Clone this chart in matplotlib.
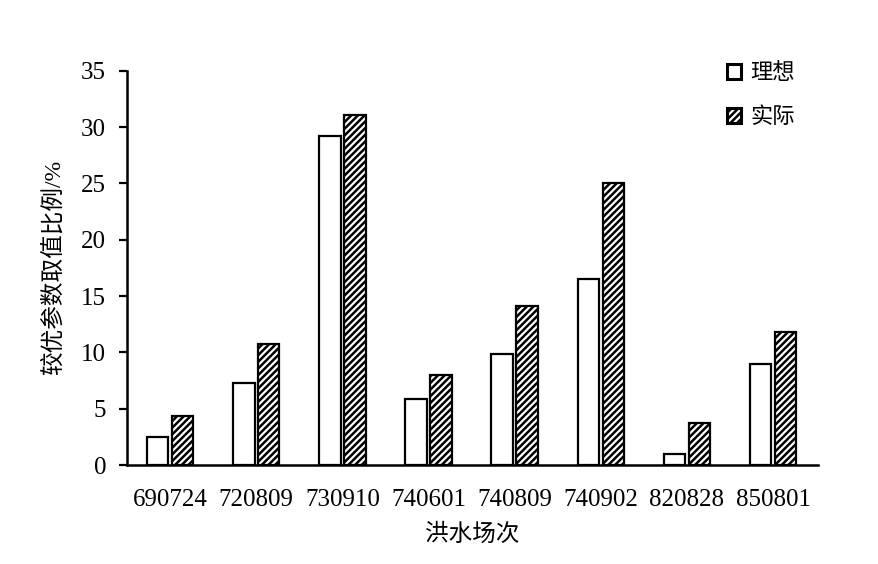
import numpy as np
import matplotlib.pyplot as plt

plt.rcParams['font.family'] = ['Liberation Serif', 'Noto Sans CJK SC']
plt.rcParams['hatch.linewidth'] = 1.8

# 数据
events = ["690724", "720809", "730910", "740601", "740809", "740902", "820828", "850801"]
ideal = [2.5, 7.3, 29.2, 5.9, 9.9, 16.5, 1.0, 9.0]
actual = [4.35, 10.7, 31.1, 8.0, 14.1, 25.0, 3.7, 11.8]

x = np.arange(len(events))
w = 0.25

fig = plt.figure(figsize=(8.79, 5.64), dpi=100)
ax = fig.add_axes([0.1445, 0.1755, 0.786, 0.699])

ax.bar(x - w / 2 - 0.02, ideal, w, color='white', edgecolor='black', linewidth=1.6, label='理想')
ax.bar(x + w / 2 + 0.02, actual, w, color='white', edgecolor='black', linewidth=1.6,
       hatch='/////', label='实际')

ax.set_xlim(-0.5, 7.52)
ax.set_ylim(0, 35)
ax.set_yticks(range(0, 36, 5))
ax.set_xticks(x)
ax.set_xticklabels(events)
ax.tick_params(axis='x', length=0, labelsize=18, pad=17)
ax.tick_params(axis='y', direction='out', length=6, width=1.6, labelsize=18, pad=9)

for s in ['top', 'right']:
    ax.spines[s].set_visible(False)
for s in ['left', 'bottom']:
    ax.spines[s].set_linewidth(1.8)

ax.set_xlabel("洪水场次", fontsize=17, labelpad=9)
ax.set_ylabel("较优参数取值比例/%", fontsize=17, labelpad=12)

leg = ax.legend(loc='upper right', bbox_to_anchor=(0.995, 1.07), frameon=False, fontsize=16,
                handlelength=0.65, handleheight=0.65, handletextpad=0.4, labelspacing=1.05)
for p in leg.get_patches():
    p.set_linewidth(2.2)

fig.savefig("out.png", dpi=100)
